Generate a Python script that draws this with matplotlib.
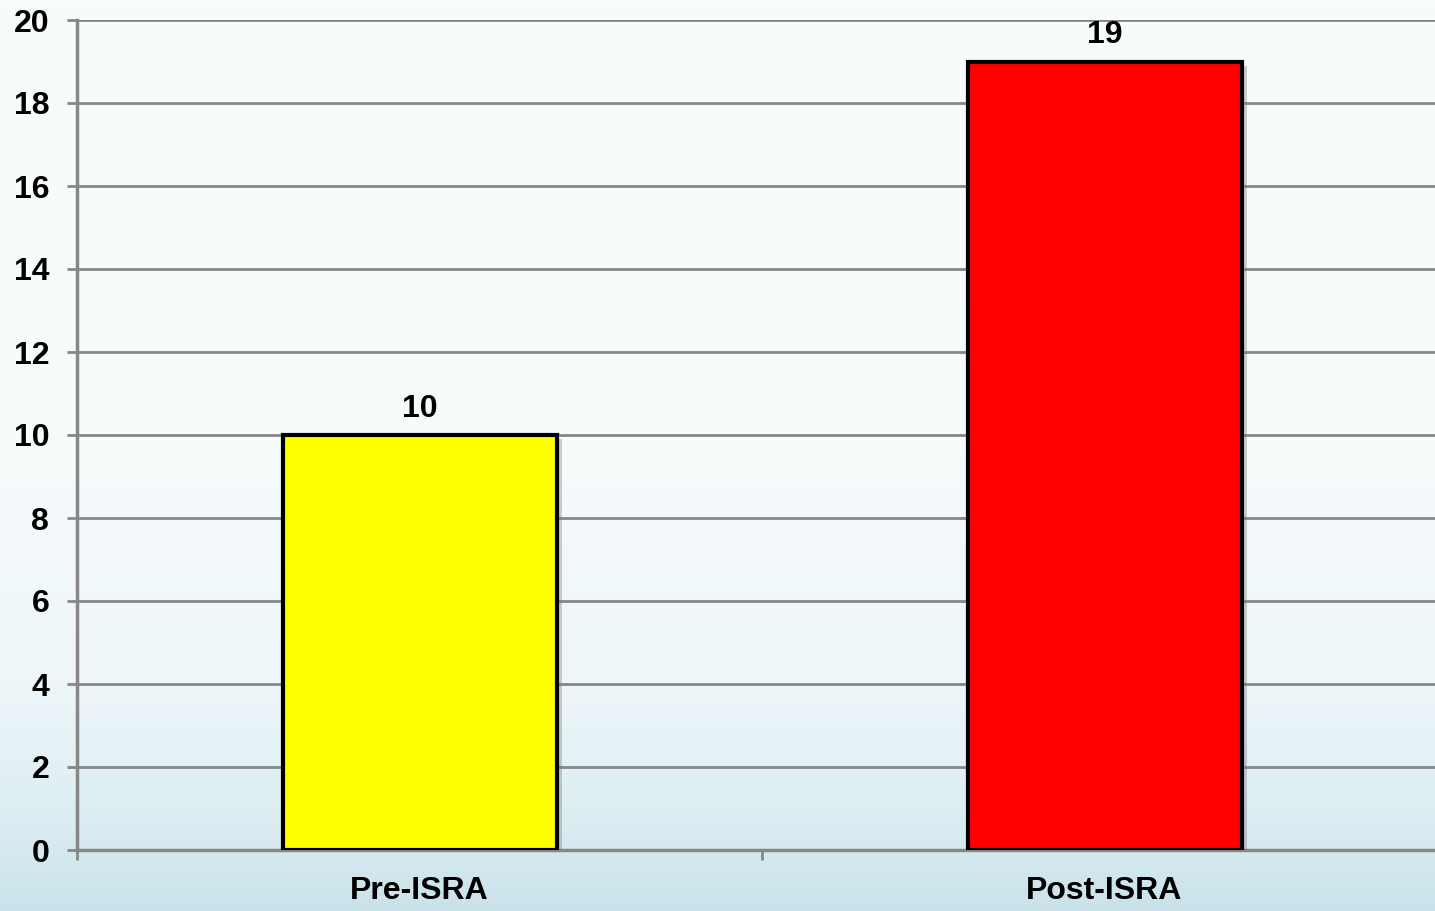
import numpy as np
import matplotlib.pyplot as plt
import matplotlib.patheffects as pe
from matplotlib.colors import LinearSegmentedColormap

categories = ['Pre-ISRA', 'Post-ISRA']
values = [10, 19]
bar_colors = ['#ffff00', '#ff0000']
y_ticks = [0, 2, 4, 6, 8, 10, 12, 14, 16, 18, 20]

plt.rcParams['font.family'] = ['Liberation Sans', 'DejaVu Sans']
plt.rcParams['font.weight'] = 'bold'

fig = plt.figure(figsize=(14.35, 9.11), dpi=100)

# fundo em degradê (quase branco em cima, azul claro embaixo)
bg = fig.add_axes([0, 0, 1, 1])
grad = np.linspace(0, 1, 512).reshape(-1, 1)
cmap = LinearSegmentedColormap.from_list(
    'bg', [(0.0, '#c9e2ea'), (0.1, '#dcedf2'), (0.25, '#eef6f9'),
           (0.5, '#f6fbfc'), (1.0, '#f9fcfd')])
bg.imshow(grad, aspect='auto', cmap=cmap, origin='lower', extent=[0, 1, 0, 1])
bg.axis('off')

grid_col = '#878787'
ax = fig.add_axes([77 / 1435, 61 / 911, 1370 / 1435, 830 / 911])
ax.patch.set_alpha(0)

x = np.arange(len(categories))
bars = ax.bar(x, values, width=0.4, color=bar_colors, edgecolor='black',
              linewidth=3, zorder=3)
for b in bars:
    b.set_path_effects([pe.SimplePatchShadow(offset=(4, -3), shadow_rgbFace='#777777', alpha=0.35),
                        pe.Normal()])

for xi, v in zip(x, values):
    ax.annotate(str(v), (xi, v), xytext=(0, 8), textcoords='offset points',
                ha='center', va='bottom', fontsize=23, fontweight='bold')

ax.set_xlim(-0.5, 1.5)
ax.set_ylim(0, 20)
ax.set_yticks(y_ticks)
ax.tick_params(axis='y', length=7, width=2, color=grid_col, pad=13, labelsize=23)

ax.set_xticks([-0.5, 0.5, 1.5])
ax.set_xticklabels([])
ax.set_xticks(x, minor=True)
ax.set_xticklabels(categories, minor=True, fontsize=23, fontweight='bold')
ax.tick_params(axis='x', which='major', length=7, width=2, color=grid_col)
ax.tick_params(axis='x', which='minor', length=0, pad=19)

ax.yaxis.grid(True, color=grid_col, linewidth=2, zorder=0)
ax.set_axisbelow(True)
for s in ['top', 'right']:
    ax.spines[s].set_visible(False)
for s in ['left', 'bottom']:
    ax.spines[s].set_color(grid_col)
    ax.spines[s].set_linewidth(2.5)

fig.savefig('out.png', dpi=100)
